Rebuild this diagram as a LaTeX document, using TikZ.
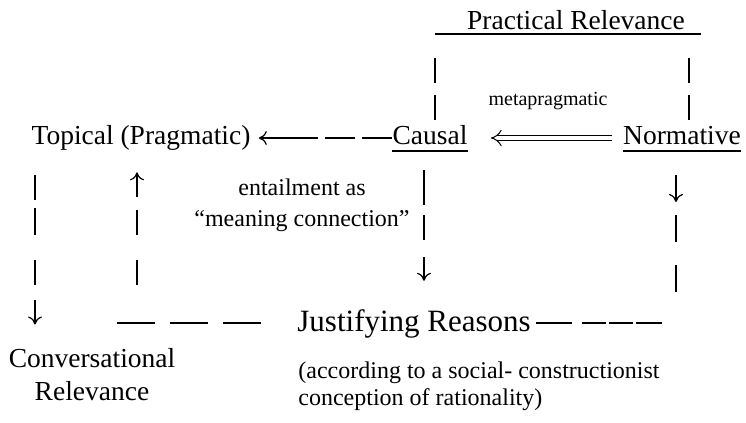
\documentclass[tikz,border=0pt]{standalone}
\usepackage{fontspec}
\setmainfont{Liberation Serif}
\usetikzlibrary{arrows.meta}
\newcommand{\termsz}{\fontsize{13.75}{16.5}\selectfont}
\newcommand{\notesz}{\fontsize{12}{15.5}\selectfont}
\tikzset{
  term/.style={inner sep=0pt, anchor=base, font=\termsz},
  note/.style={inner sep=0pt, anchor=base, font=\notesz},
  conn/.style={line width=0.6pt},
}
\begin{document}
\begin{tikzpicture}[x=0.5pt, y=-0.5pt, >={To[length=4pt,width=7pt]}]
\useasboundingbox (0,0) rectangle (746,423);
% terms
\node[term] (prac) at (576,30) {Practical Relevance};
\node[term] (topical) at (141,144) {Topical (Pragmatic)};
\node[term] (causal) at (430,144) {Causal};
\node[term] (norm) at (682,144) {Normative};
\node[term, anchor=base west, font=\fontsize{15.5}{18}\selectfont] (just) at (297,331) {Justifying Reasons};
\node[term, align=center] (conv) at (92,400) {Conversational\\Relevance};
% notes
\node[note, font=\fontsize{10}{12}\selectfont] (meta) at (548,105) {metapragmatic};
\node[note, align=center] (ent) at (302,226) {entailment as\\``meaning connection''};
\node[note, align=left, anchor=base west, font=\fontsize{12}{13.5}\selectfont] (acc) at (298,405) {(according to a social- constructionist\\conception of rationality)};
% underlines
\draw[line width=1pt] ([xshift=-16pt,yshift=-2pt]prac.base west) -- ([xshift=8pt,yshift=-2pt]prac.base east);
\draw[conn] ([yshift=-3.5pt]causal.base west) -- ([yshift=-3.5pt]causal.base east);
\draw[conn] ([yshift=-3.5pt]norm.base west) -- ([yshift=-3.5pt]norm.base east);
% columns and free ends
\coordinate (colA) at (35,0);
\coordinate (colB) at (137,0);
\coordinate (colC) at (424,0);
\coordinate (colN) at (676,0);
\coordinate (pl) at (435,58);
\coordinate (pr) at (689,58);
\coordinate (bBot) at (137,285);
\coordinate (nArr) at (676,202);
\coordinate (nTop) at (676,215);
\coordinate (nBot) at (676,292);
\coordinate (rowL) at (113,323);
\coordinate (rowR) at (662,323);
% practical relevance links
\draw[conn, dash pattern=on 12.5pt off 6pt] (pl) -- (pl |- causal.north);
\draw[conn, dash pattern=on 12.5pt off 6pt] (pr) -- (pr |- norm.north);
% causal to topical
\draw[conn, ->, dash pattern=on 15pt off 3.5pt on 15pt off 3.5pt on 40pt]
  ([yshift=3pt]causal.base west) -- ([xshift=4pt,yshift=3pt]topical.base east);
% normative to causal
\draw[double, double distance=2.4pt, line width=0.5pt, -{Implies}]
  ([xshift=-5.5pt,yshift=3pt]norm.base west) -- ([xshift=11.5pt,yshift=3pt]causal.base east);
% topical down to conversational
\draw[conn, ->, shorten <=15.5pt, shorten >=11.5pt, dash pattern=on 12.5pt off 4pt on 13.5pt off 12.5pt on 12.5pt off 7.5pt on 20pt]
  (colA |- topical.base) -- (colA |- conv.north);
% justifying back up to topical
\draw[conn, dash pattern=on 19pt off 7.5pt] ([xshift=-18pt,yshift=4pt]just.base west) -- (rowL);
\draw[conn, ->, shorten >=11pt, dash pattern=on 12.5pt off 12.5pt on 12.5pt off 6.5pt on 20pt]
  (bBot) -- (colB |- topical.south);
% causal down to justifying
\draw[conn, ->, shorten <=13pt, shorten >=14pt, dash pattern=on 17.5pt off 5pt on 12.5pt off 8.5pt on 20pt]
  (colC |- causal.base) -- (colC |- just.north);
% normative down to justifying
\draw[conn, ->, shorten <=15.5pt] (colN |- norm.base) -- (nArr);
\draw[conn, dash pattern=on 13.5pt off 11.5pt] (nTop) -- (nBot);
\draw[conn, dash pattern=on 18pt off 5pt on 12pt off 1.5pt on 12pt off 1.5pt on 20pt]
  ([xshift=2.5pt,yshift=4pt]just.base east) -- (rowR);
\end{tikzpicture}
\end{document}
